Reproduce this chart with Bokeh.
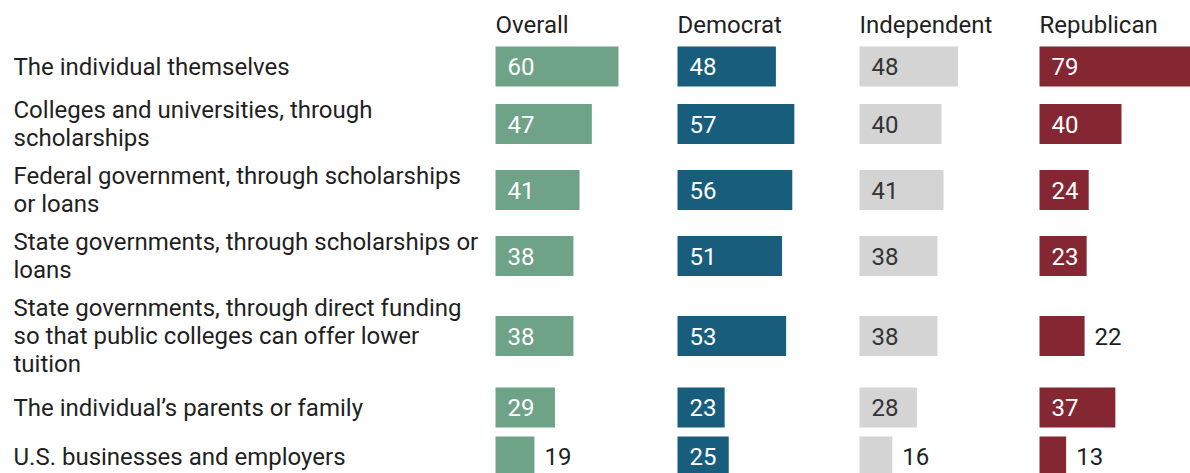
from bokeh.plotting import figure
from bokeh.models import Range1d
from bokeh.core.properties import value
from bokeh.embed import file_html
from bokeh.resources import INLINE

# ---- data ----
categories = [
    "The individual themselves",
    "Colleges and universities, through\nscholarships",
    "Federal government, through scholarships\nor loans",
    "State governments, through scholarships or\nloans",
    "State governments, through direct funding\nso that public colleges can offer lower\ntuition",
    "The individual\u2019s parents or family",
    "U.S. businesses and employers",
]
series_names = ["Overall", "Democrat", "Independent", "Republican"]
overall = [60, 47, 41, 38, 38, 29, 19]
democrat = [48, 57, 56, 51, 53, 23, 25]
independent = [48, 40, 41, 38, 38, 28, 16]
republican = [79, 40, 24, 23, 22, 37, 13]

# ---- styling / layout ----
W, H = 1190, 473
FONT = value("Roboto")
FS = "24px"
TEXT_COLOR = "#1f1f1f"
LABEL_X = 13
PANEL_X = [495, 677, 859, 1039]
PX_PER_UNIT = 2.05
BAR_H = 40
LINE_H = 28
GAP = 9
FIRST_CENTER = 66
HEADER_BASELINE = 24
BASE_SHIFT = 0.0
INSIDE_MIN = 23
colors = ["#6fa388", "#185e7c", "#d4d4d4", "#852633"]
inside_colors = ["#ffffff", "#ffffff", "#333333", "#ffffff"]

series = [overall, democrat, independent, republican]

lines = [c.split("\n") for c in categories]
heights = [max(BAR_H, LINE_H * len(l) + 1) for l in lines]
centers = []
c = FIRST_CENTER
for i, h in enumerate(heights):
    if i > 0:
        c += heights[i - 1] / 2 + GAP + h / 2
    centers.append(c)

p = figure(width=W, height=H, x_range=Range1d(0, W), y_range=Range1d(H, 0),
           output_backend="svg", toolbar_location=None, min_border=0,
           x_axis_location=None, y_axis_location=None)
p.grid.visible = False
p.outline_line_color = None

# category labels
lx, ly, lt = [], [], []
for cen, ls in zip(centers, lines):
    n = len(ls)
    for k, t in enumerate(ls):
        lx.append(LABEL_X)
        ly.append(cen + (k - (n - 1) / 2) * LINE_H + BASE_SHIFT)
        lt.append(t)
p.text(x=lx, y=ly, text=lt, text_font=FONT, text_font_size=FS,
       text_color=TEXT_COLOR, text_baseline="alphabetic", text_align="left")

for name, x0, vals, col, icol in zip(series_names, PANEL_X, series, colors, inside_colors):
    p.extra_x_ranges[name] = Range1d(-x0 / PX_PER_UNIT, (W - x0) / PX_PER_UNIT)
    p.hbar(y=centers, left=0, right=vals, height=BAR_H, fill_color=col,
           line_color=None, x_range_name=name)
    # header
    p.text(x=[0], y=[HEADER_BASELINE], text=[name], x_range_name=name,
           text_font=FONT, text_font_size=FS, text_color=TEXT_COLOR,
           text_baseline="alphabetic", text_align="left")
    ins = [(v, cy) for v, cy in zip(vals, centers) if v >= INSIDE_MIN]
    outs = [(v, cy) for v, cy in zip(vals, centers) if v < INSIDE_MIN]
    if ins:
        p.text(x=[0] * len(ins), y=[cy + BASE_SHIFT for v, cy in ins],
               text=[str(v) for v, cy in ins], x_offset=12, x_range_name=name,
               text_font=FONT, text_font_size=FS, text_color=icol,
               text_baseline="alphabetic", text_align="left")
    if outs:
        p.text(x=[v for v, cy in outs], y=[cy + BASE_SHIFT for v, cy in outs],
               text=[str(v) for v, cy in outs], x_offset=10, x_range_name=name,
               text_font=FONT, text_font_size=FS, text_color=TEXT_COLOR,
               text_baseline="alphabetic", text_align="left")

open("out.html", "w").write(file_html(p, INLINE))
